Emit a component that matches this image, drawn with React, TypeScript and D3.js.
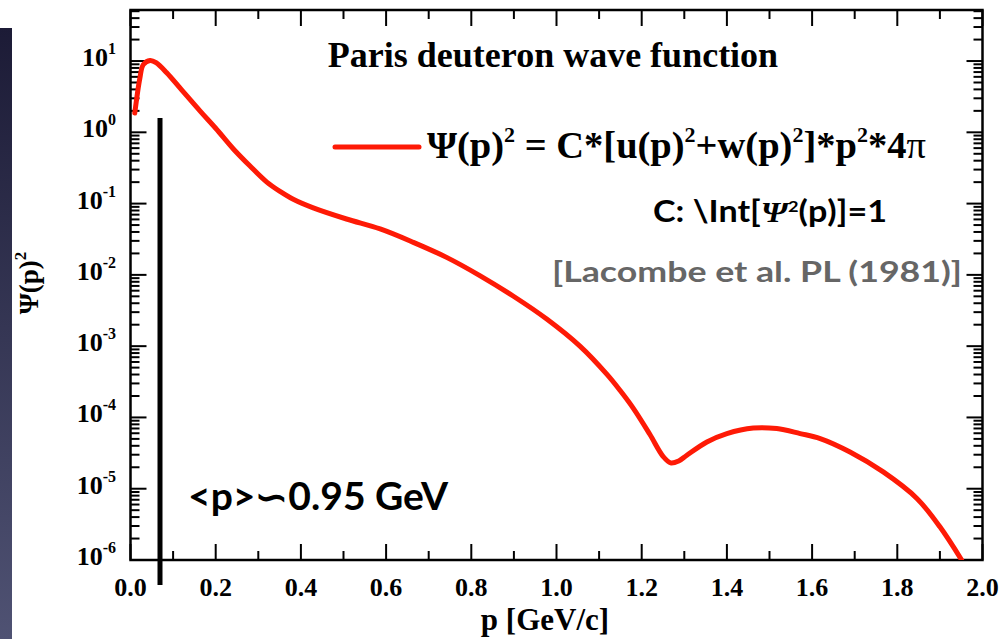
import React from "react";
import * as d3 from "d3";

// momentum p [GeV/c]
const P = [
  0.01, 0.022, 0.03, 0.046, 0.06, 0.085, 0.12, 0.163, 0.2, 0.241, 0.28, 0.32,
  0.351, 0.382, 0.429, 0.507, 0.586, 0.664, 0.742, 0.82, 0.899, 0.977, 1.055,
  1.119, 1.149, 1.18, 1.219, 1.25, 1.268, 1.287, 1.306, 1.353, 1.4, 1.462,
  1.517, 1.572, 1.619, 1.689, 1.767, 1.846, 1.9, 1.951,
];
// Psi(p)^2
const PSI2 = [
  1.86, 5.75, 8.9, 10.2, 9.5, 6.85, 3.94, 2.0, 1.14, 0.589, 0.339, 0.2,
  0.148, 0.115, 0.0871, 0.0608, 0.0441, 0.0286, 0.0176, 0.00977, 0.00501,
  0.0024, 0.001, 3.98e-4, 2.4e-4, 1.35e-4, 5.8e-5, 2.85e-5, 2.3e-5, 2.45e-5,
  2.95e-5, 4.53e-5, 5.94e-5, 7.11e-5, 6.98e-5, 5.94e-5, 5.06e-5, 3.28e-5,
  1.72e-5, 7.31e-6, 2.92e-6, 1.0e-6,
];
const X_MAJOR = [0, 0.2, 0.4, 0.6, 0.8, 1.0, 1.2, 1.4, 1.6, 1.8, 2.0];
const X_MINOR = [0.1, 0.3, 0.5, 0.7, 0.9, 1.1, 1.3, 1.5, 1.7, 1.9];
const Y_EXP = [-6, -5, -4, -3, -2, -1, 0, 1];
const Y_MINOR_MULT = [2, 3, 4, 5, 6, 7, 8, 9];

const TITLE = "Paris deuteron wave function";
const NOTE_NORM = "C: \\Int[";
const REF = "[Lacombe et al. PL (1981)]";
const MEAN_P = "<p>∽0.95 GeV";

const SERIF = "'Liberation Serif', 'Times New Roman', serif";
const SANS = "Lato, 'Open Sans', sans-serif";
const RED = "#fe1a06";

export default function App() {
  const L = 130.5, R = 982.5, T = 10, B = 560;
  const x = d3.scaleLinear().domain([0, 2]).range([L, R]);
  const y = d3.scaleLog().domain([1e-6, 52]).range([B, T]);

  const line = d3
    .line<number>()
    .x((_, i) => x(P[i]))
    .y((d) => y(d))
    .curve(d3.curveCatmullRom.alpha(0.5));

  const minorY: number[] = [];
  Y_EXP.forEach((e) =>
    Y_MINOR_MULT.forEach((m) => {
      const v = m * Math.pow(10, e);
      if (v < 52 && v > 1e-6) minorY.push(v);
    })
  );

  const axisW = 2.5;
  const tickW = 2;
  const majLen = 16;
  const minLen = 9;

  return (
    <div style={{ position: "absolute", left: 0, top: 0 }}>
      <svg width={1000} height={639} style={{ display: "block", background: "#fff" }}>
        <defs>
          <linearGradient id="strip" x1="0" y1="0" x2="0" y2="1">
            <stop offset="0" stopColor="#1c1b36" />
            <stop offset="1" stopColor="#4f5273" />
          </linearGradient>
          <clipPath id="plotclip">
            <rect x={L} y={T} width={R - L} height={B - T} />
          </clipPath>
        </defs>
        <rect x={0} y={28} width={12} height={611} fill="url(#strip)" />

        {/* ticks */}
        <g stroke="#000" strokeWidth={tickW}>
          {X_MAJOR.map((v) => (
            <g key={"xm" + v}>
              <line x1={x(v)} x2={x(v)} y1={B} y2={B - majLen} />
              <line x1={x(v)} x2={x(v)} y1={T} y2={T + majLen} />
            </g>
          ))}
          {X_MINOR.map((v) => (
            <g key={"xn" + v}>
              <line x1={x(v)} x2={x(v)} y1={B} y2={B - minLen} />
              <line x1={x(v)} x2={x(v)} y1={T} y2={T + minLen} />
            </g>
          ))}
          {Y_EXP.map((e) => {
            const yy = y(Math.pow(10, e));
            return (
              <g key={"ym" + e}>
                <line x1={L} x2={L + majLen} y1={yy} y2={yy} />
                <line x1={R} x2={R - majLen} y1={yy} y2={yy} />
              </g>
            );
          })}
          {minorY.map((v, i) => {
            const yy = y(v);
            return (
              <g key={"yn" + i}>
                <line x1={L} x2={L + minLen} y1={yy} y2={yy} />
                <line x1={R} x2={R - minLen} y1={yy} y2={yy} />
              </g>
            );
          })}
        </g>

        {/* frame */}
        <rect x={L} y={T} width={R - L} height={B - T} fill="none" stroke="#000" strokeWidth={axisW} />

        {/* x tick labels */}
        <g fontFamily={SERIF} fontWeight="bold" fontSize={26} textAnchor="middle">
          {X_MAJOR.map((v) => (
            <text key={"xl" + v} x={x(v)} y={596}>
              {v.toFixed(1)}
            </text>
          ))}
        </g>
        {/* y tick labels */}
        <g fontFamily={SERIF} fontWeight="bold" fontSize={26} textAnchor="end">
          {Y_EXP.map((e) => (
            <text key={"yl" + e} x={116} y={y(Math.pow(10, e)) + 5}>
              10
              <tspan fontSize={16} dy={-12}>
                {String(e)}
              </tspan>
            </text>
          ))}
        </g>

        {/* axis titles */}
        <text x={545} y={630} fontFamily={SERIF} fontWeight="bold" fontSize={31} textAnchor="middle">
          p [GeV/c]
        </text>
        <text
          transform="translate(38,283) rotate(-90)"
          fontFamily={SERIF}
          fontWeight="bold"
          fontSize={27}
          textAnchor="middle"
        >
          Ψ(p)
          <tspan fontSize={17} dy={-12}>2</tspan>
        </text>

        {/* vertical marker line */}
        <line x1={160} x2={160} y1={118} y2={585} stroke="#000" strokeWidth={5} />

        {/* curve */}
        <path d={line(PSI2) || ""} fill="none" stroke={RED} strokeWidth={5} strokeLinejoin="round" strokeLinecap="round" clipPath="url(#plotclip)" />

        {/* title */}
        <text x={553} y={67} fontFamily={SERIF} fontWeight="bold" fontSize={36} textAnchor="middle">
          {TITLE}
        </text>

        {/* legend */}
        <line x1={335} x2={419} y1={147} y2={147} stroke={RED} strokeWidth={5} strokeLinecap="round" />
        <text x={427} y={158} fontFamily={SERIF} fontWeight="bold" fontSize={38.5}>
          Ψ(p)
          <tspan fontSize={22} dy={-16}>2</tspan>
          <tspan dy={16}> = C*[u(p)</tspan>
          <tspan fontSize={22} dy={-16}>2</tspan>
          <tspan dy={16}>+w(p)</tspan>
          <tspan fontSize={22} dy={-16}>2</tspan>
          <tspan dy={16}>]*p</tspan>
          <tspan fontSize={22} dy={-16}>2</tspan>
          <tspan dy={16}>*4</tspan>
          <tspan fontWeight="normal">π</tspan>
        </text>

        {/* normalization note */}
        <text x={653} y={222} fontFamily={SANS} fontWeight="bold" fontSize={30} textLength={234} lengthAdjust="spacingAndGlyphs">
          {NOTE_NORM}
          <tspan fontFamily={SERIF} fontStyle="italic">Ψ</tspan>
          <tspan fontSize={16} dy={-10}>2</tspan>
          <tspan dy={10}>(p)]=1</tspan>
        </text>

        {/* reference */}
        <text x={552} y={282} fontFamily={SANS} fontWeight="bold" fontSize={29} fill="#666" textLength={410} lengthAdjust="spacingAndGlyphs">
          {REF}
        </text>

        {/* mean momentum */}
        <text x={188} y={510} fontFamily={SANS} fontWeight="bold" fontSize={38} textLength={260} lengthAdjust="spacingAndGlyphs">
          {MEAN_P}
        </text>
      </svg>
    </div>
  );
}
